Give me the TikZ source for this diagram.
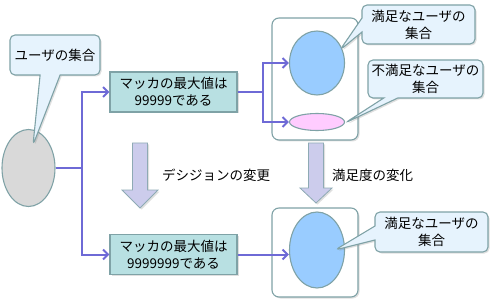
\documentclass[tikz,border=0pt]{standalone}
\usepackage{fontspec}
\setmainfont{Noto Sans CJK JP}
\usetikzlibrary{positioning,arrows.meta,shapes.geometric,shapes.callouts,shadows}
\definecolor{linkBlue}{HTML}{6E6AD6}
\definecolor{edgeGray}{HTML}{7FA2A6}
\definecolor{boxTeal}{HTML}{B8E0E2}
\definecolor{noteBlue}{HTML}{E6F3FD}
\definecolor{satBlue}{HTML}{99CCFF}
\definecolor{unsatPink}{HTML}{FFCCFF}
\definecolor{userGray}{HTML}{D9D9D9}
\definecolor{flowLilac}{HTML}{CCCCEC}

\begin{document}
\begin{tikzpicture}[x=1pt, y=-1pt,
    font=\fontsize{13.5}{17}\selectfont,
    softShadow/.style={drop shadow={opacity=0.25, shadow xshift=1.5pt, shadow yshift=-1.5pt}},
    setNode/.style={ellipse, draw=edgeGray, line width=1.1pt, inner sep=0pt},
    ruleBox/.style={rectangle, draw=edgeGray, fill=boxTeal, line width=1.1pt, minimum width=127pt, minimum height=40pt, align=center, inner sep=2pt, softShadow},
    groupBox/.style={rectangle, rounded corners=7pt, draw=edgeGray, fill=white, line width=1.1pt, minimum width=86pt, softShadow},
    noteBox/.style={rectangle callout, rounded corners=5pt, draw=edgeGray, fill=noteBlue, line width=1.1pt, align=center, inner sep=2pt, softShadow},
    linkArrow/.style={draw=linkBlue, line width=2pt, -{Straight Barb[length=5pt, width=10pt]}},
    flowArrow/.style={draw=edgeGray!80!flowLilac, fill=flowLilac, line width=0.8pt, softShadow}
]
    \useasboundingbox (0,0) rectangle (497,299);

    % containers
    \node[groupBox, minimum height=122pt] (grpTop) at (315,79) {};
    \node[groupBox, minimum height=89pt]  (grpBot) at (315,252.5) {};

    % sets
    \node[setNode, fill=userGray, minimum width=53pt, minimum height=77pt] (users) at (28.5,168) {};
    \node[setNode, fill=satBlue, minimum width=55pt, minimum height=64pt] (satTop) at (317,63) {};
    \node[setNode, fill=unsatPink, minimum width=55pt, minimum height=17pt] (unsat) at (317,122) {};
    \node[setNode, fill=satBlue, minimum width=55pt, minimum height=76pt] (satBot) at (317,250) {};

    % rules
    \node[ruleBox] (ruleOld) at (173.5,92) {マッカの最大値は\\99999である};
    \node[ruleBox] (ruleNew) at (173.5,254.5) {マッカの最大値は\\9999999である};

    % connectors
    \coordinate (forkL) at (82,168);
    \coordinate (forkR) at (263,92);
    \draw[draw=linkBlue, line width=2pt] (users.east) -- (forkL);
    \draw[linkArrow] (forkL) |- (ruleOld.west);
    \draw[linkArrow] (forkL) |- (ruleNew.west);
    \draw[draw=linkBlue, line width=2pt] (ruleOld.east) -- (forkR);
    \draw[linkArrow] (forkR) |- (satTop.west);
    \draw[linkArrow] (forkR) |- (unsat.west);
    \draw[linkArrow] (ruleNew.east) -- (ruleNew.east -| satBot.west);

    % big arrows
    \draw[flowArrow] (132.5,143) -- (147.5,143) -- (147.5,190) -- (158,190) -- (140,208)
        -- (122,190) -- (132.5,190) -- cycle;
    \draw[flowArrow] (308.5,143) -- (323.5,143) -- (323.5,188) -- (332,188) -- (316,203)
        -- (300,188) -- (308.5,188) -- cycle;
    \node[anchor=west, inner sep=0pt] (decLbl) at (162,175) {デシジョンの変更};
    \node[anchor=west, inner sep=0pt] (satLbl) at (332,175) {満足度の変化};

    % callouts
    \node[noteBox, minimum width=90pt, minimum height=40pt, callout pointer width=20pt,
        callout absolute pointer={(33,145)}] (noteUsers) at (55,55) {ユーザの集合};
    \node[noteBox, minimum width=113pt, minimum height=39pt, callout pointer width=14pt,
        callout absolute pointer={(340,50)}] (noteSat) at (418.5,24.5) {満足なユーザの\\集合};
    \node[noteBox, minimum width=115pt, minimum height=38pt, callout pointer width=14pt,
        callout absolute pointer={(345,123)}] (noteUnsat) at (425.5,79) {不満足なユーザの\\集合};
    \node[noteBox, minimum width=113pt, minimum height=40pt, callout pointer width=14pt,
        callout absolute pointer={(335,250)}] (noteSatNew) at (431.5,232) {満足なユーザの\\集合};
\end{tikzpicture}
\end{document}
